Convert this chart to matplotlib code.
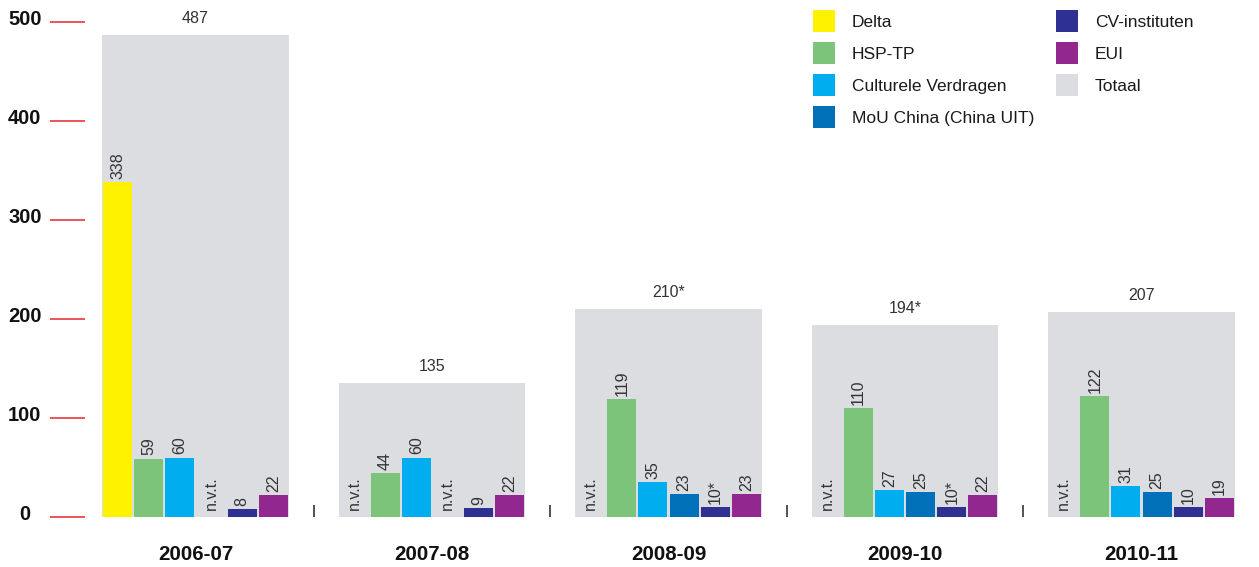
import matplotlib
matplotlib.use("Agg")
import matplotlib.pyplot as plt
from matplotlib.patches import Rectangle
from matplotlib.transforms import ScaledTranslation

plt.rcParams['font.family'] = ['Liberation Sans', 'DejaVu Sans']

# Data: number of participants per programme and academic year (None = n.v.t.)
years = ["2006-07", "2007-08", "2008-09", "2009-10", "2010-11"]
series_names = ["Delta", "HSP-TP", "Culturele Verdragen", "MoU China (China UIT)",
                "CV-instituten", "EUI"]
delta = [338, None, None, None, None]
hsp_tp = [59, 44, 119, 110, 122]
culturele_verdragen = [60, 60, 35, 27, 31]
mou_china = [None, None, 23, 25, 25]
cv_instituten = [8, 9, 10, 10, 10]
eui = [22, 22, 23, 22, 19]
cv_instituten_notes = ["", "", "*", "*", ""]
totaal = [487, 135, 210, 194, 207]
totaal_notes = ["", "", "*", "*", ""]
y_ticks = [0, 100, 200, 300, 400, 500]

series = [delta, hsp_tp, culturele_verdragen, mou_china, cv_instituten, eui]
notes = [[""] * 5, [""] * 5, [""] * 5, [""] * 5, cv_instituten_notes, [""] * 5]
colors = ["#fff200", "#7cc47a", "#00aeef", "#0070b8", "#2e3192", "#92278f"]
total_color = "#dcdde0"
text_color = "#333333"

W, H = 1259, 567
fig = plt.figure(figsize=(W / 100, H / 100), dpi=100)
ax = fig.add_axes([102 / W, (H - 517) / H, (1235 - 102) / W, (517 - 22) / H])

n_slots = 6
group_step = 7.59
bar_w = 0.93

for gi, year in enumerate(years):
    x0 = gi * group_step
    # total background bar
    ax.bar(x0, totaal[gi], width=n_slots, align="edge", color=total_color, zorder=1)
    ax.annotate(f"{totaal[gi]}{totaal_notes[gi]}", (x0 + n_slots / 2, totaal[gi]),
                xytext=(0, 6.5), textcoords="offset points", ha="center", va="bottom",
                fontsize=11.5, color=text_color)
    for si, vals in enumerate(series):
        xc = x0 + si + 0.5
        v = vals[gi]
        if v is None:
            ax.text(xc, 7, "n.v.t.", rotation=90, ha="center", va="bottom",
                    fontsize=11.5, color=text_color, zorder=3)
            continue
        ax.bar(xc, v, width=bar_w, color=colors[si], zorder=2)
        ax.annotate(f"{v}{notes[si][gi]}", (xc, v), xytext=(0, 2.5),
                    textcoords="offset points", rotation=90, ha="center", va="bottom",
                    fontsize=11.5, color=text_color, zorder=3)
    ax.text(x0 + n_slots / 2, -38, year, ha="center", va="center",
            fontsize=14.8, fontweight="bold", color="#111111")

# small separators between the year groups
for gi in range(len(years) - 1):
    xs = gi * group_step + n_slots + (group_step - n_slots) / 2
    ax.vlines(xs, 0, 12, color="#444444", lw=1.3, clip_on=False)

ax.set_xlim(0, (len(years) - 1) * group_step + n_slots)
ax.set_ylim(0, 500)
ax.set_xticks([])
ax.set_yticks(y_ticks)
for s in ["top", "right", "bottom"]:
    ax.spines[s].set_visible(False)
ax.spines["left"].set_position(("outward", 12.6))
ax.spines["left"].set_color("none")
ax.tick_params(axis="y", length=25.5, width=1.1, color="#e8262d", pad=17.5,
               labelsize=14.5, labelcolor="#111111")
shift_down = ScaledTranslation(0, -3 / 100, fig.dpi_scale_trans)
for lab in ax.get_yticklabels():
    lab.set_fontweight("bold")
    lab.set_horizontalalignment("center")
    lab.set_verticalalignment("baseline")
    lab.set_transform(lab.get_transform() + shift_down)

# legend: two columns of colour squares with labels
legend_items = list(zip(series_names, colors)) + [("Totaal", total_color)]
col_x = [813, 1056]
row_y = [21, 53, 85, 117]
sq = 22
for i, (name, col) in enumerate(legend_items):
    c, r = (0, i) if i < 4 else (1, i - 4)
    x, y = col_x[c], row_y[r]
    fig.add_artist(Rectangle((x / W, 1 - (y + sq / 2) / H), sq / W, sq / H,
                             transform=fig.transFigure, facecolor=col, edgecolor="none"))
    fig.text((x + 39) / W, 1 - y / H, name, ha="left", va="center_baseline",
             fontsize=12.5, color="#1a1a1a")

fig.savefig("out.png", dpi=100)
